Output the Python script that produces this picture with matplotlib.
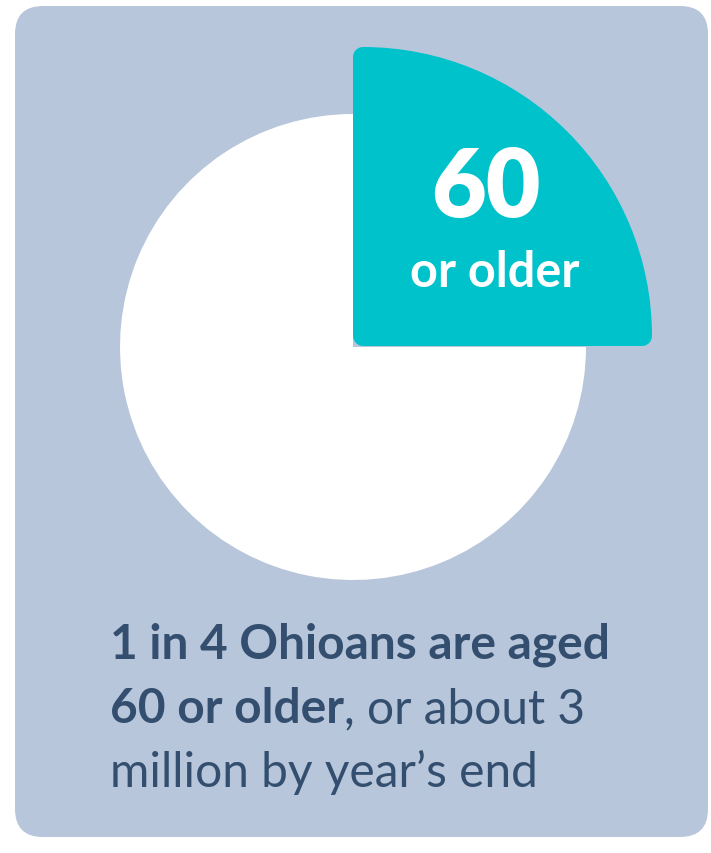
import matplotlib
matplotlib.use("Agg")
import matplotlib.pyplot as plt
from matplotlib.patches import FancyBboxPatch

plt.rcParams["font.family"] = ["Lato", "DejaVu Sans"]

# 1 in 4 Ohioans are 60 or older
labels = ["60 or older", "under 60"]
shares = [25, 75]
big_label = "60"
small_label = "or older"
line1 = "1 in 4 Ohioans are aged"
line2_bold = "60 or older"
line2_rest = ", or about 3"
line3 = "million by year\u2019s end"

BG = "#B7C6DA"
TEAL = "#00C2CB"
INK = "#334E6E"

W, H = 711, 854
fig = plt.figure(figsize=(W / 100, H / 100), dpi=100, facecolor="white")
ax = fig.add_axes([0, 0, 1, 1])
ax.set_xlim(0, W)
ax.set_ylim(0, H)
ax.axis("off")

# card background
card = FancyBboxPatch((15, 16), 693, 831, boxstyle="round,pad=0,rounding_size=28",
                      facecolor=BG, edgecolor="none", zorder=0)
ax.add_patch(card)

wedges, _ = ax.pie(shares, colors=[TEAL, "white"], startangle=90, counterclock=False,
                   radius=233, center=(353, 506), frame=True,
                   wedgeprops=dict(linewidth=0))
# highlighted slice: bigger radius and rounded corners
wedges[0].set_center((363, 517))
wedges[0].set_radius(279)
wedges[0].set_edgecolor(TEAL)
wedges[0].set_linewidth(14.4)
wedges[0].set_joinstyle("round")
wedges[0].set_zorder(3)
wedges[1].set_zorder(2)
ax.set_xlim(0, W)
ax.set_ylim(0, H)
ax.set_aspect("equal")

ax.text(486, 637, big_label, color="white", fontsize=68, fontweight="heavy",
        ha="center", va="baseline", zorder=5)
ax.text(495, 567, small_label, color="white", fontsize=35, fontweight="bold",
        ha="center", va="baseline", zorder=5)

fs = 34.5
ax.text(110, 195, line1, color=INK, fontsize=fs, fontweight="bold", va="baseline")
t = ax.text(110, 131, line2_bold, color=INK, fontsize=fs, fontweight="bold", va="baseline")
fig.canvas.draw()
bb = t.get_window_extent(renderer=fig.canvas.get_renderer())
x_end = ax.transData.inverted().transform((bb.x1, bb.y0))[0]
ax.text(x_end, 131, line2_rest, color=INK, fontsize=fs, va="baseline")
ax.text(110, 67, line3, color=INK, fontsize=fs, va="baseline")

fig.savefig("out.png", dpi=100, facecolor="white")
